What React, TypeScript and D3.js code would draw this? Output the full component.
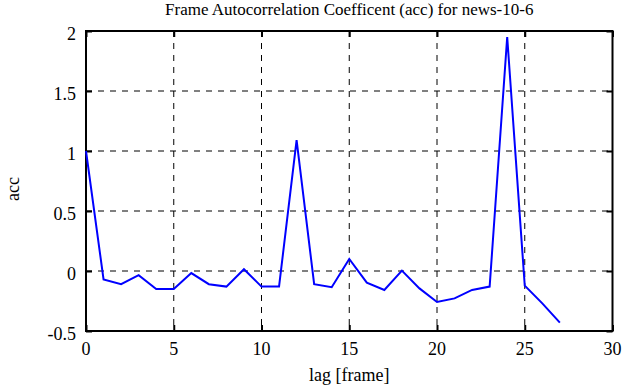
import { useRef, useEffect } from 'react';
import * as d3 from 'd3';

// lag (frames) and the autocorrelation coefficient
const lags = [0, 1, 2, 3, 4, 5, 6, 7, 8, 9, 10, 11, 12, 13, 14, 15, 16, 17, 18, 19, 20, 21, 22, 23, 24, 25, 26, 27];
const acc = [
  1.0, -0.07, -0.11, -0.035, -0.15, -0.15, -0.017, -0.11, -0.13, 0.015,
  -0.13, -0.13, 1.09, -0.11, -0.135, 0.1, -0.097, -0.158, 0.003, -0.145,
  -0.258, -0.228, -0.158, -0.13, 1.95, -0.122, -0.27, -0.43,
];
const xTicks = [0, 5, 10, 15, 20, 25, 30];
const yTicks = [-0.5, 0, 0.5, 1, 1.5, 2];

const title = 'Frame Autocorrelation Coefficent (acc) for news-10-6';
const xLabel = 'lag [frame]';
const yLabel = 'acc';

export default function App() {
  const svgRef = useRef<SVGSVGElement | null>(null);
  const width = 624;
  const height = 387;
  const margin = { top: 31, right: 11.5, bottom: 56, left: 86 };
  const innerW = width - margin.left - margin.right;
  const innerH = height - margin.top - margin.bottom;

  useEffect(() => {
    if (!svgRef.current) return;
    const font = 'Liberation Serif';

    const x = d3.scaleLinear().domain([0, 30]).range([0, innerW]);
    const y = d3.scaleLinear().domain([-0.5, 2]).range([innerH, 0]);

    const svg = d3.select(svgRef.current);
    svg.selectAll('*').remove();
    svg.attr('width', width).attr('height', height).attr('font-family', font);

    const g = svg.append('g').attr('transform', `translate(${margin.left},${margin.top})`);

    // dashed grid
    g.append('g')
      .selectAll('line')
      .data(xTicks.slice(1, -1))
      .join('line')
      .attr('x1', (d) => x(d)).attr('x2', (d) => x(d))
      .attr('y1', 0).attr('y2', innerH)
      .attr('stroke', '#000').attr('stroke-width', 1).attr('stroke-dasharray', '6,6');
    g.append('g')
      .selectAll('line')
      .data(yTicks.slice(1, -1))
      .join('line')
      .attr('x1', 0).attr('x2', innerW)
      .attr('y1', (d) => y(d)).attr('y2', (d) => y(d))
      .attr('stroke', '#000').attr('stroke-width', 1).attr('stroke-dasharray', '6,6');

    // inward ticks on all four sides (labels drawn separately)
    const styleAxis = (sel: any) => {
      sel.selectAll('.domain').remove();
      sel.selectAll('text').remove();
      sel.selectAll('line').attr('stroke', '#000').attr('stroke-width', 2);
    };
    g.append('g')
      .attr('transform', `translate(0,${innerH})`)
      .call(d3.axisBottom(x).tickValues(xTicks).tickSize(-6))
      .call(styleAxis);
    g.append('g')
      .call(d3.axisTop(x).tickValues(xTicks).tickSize(-6))
      .call(styleAxis);
    g.append('g')
      .call(d3.axisLeft(y).tickValues(yTicks).tickSize(-6))
      .call(styleAxis);
    g.append('g')
      .attr('transform', `translate(${innerW},0)`)
      .call(d3.axisRight(y).tickValues(yTicks).tickSize(-6))
      .call(styleAxis);

    // tick labels
    g.append('g')
      .selectAll('text')
      .data(xTicks)
      .join('text')
      .attr('x', (d) => x(d))
      .attr('y', innerH + 24)
      .attr('text-anchor', 'middle')
      .attr('font-family', font).attr('font-size', 18).attr('fill', '#000')
      .text((d) => String(d));
    g.append('g')
      .selectAll('text')
      .data(yTicks)
      .join('text')
      .attr('x', -10)
      .attr('y', (d) => y(d) + 9)
      .attr('text-anchor', 'end')
      .attr('font-family', font).attr('font-size', 18).attr('fill', '#000')
      .text((d) => String(d));

    // frame
    g.append('rect')
      .attr('width', innerW).attr('height', innerH)
      .attr('fill', 'none').attr('stroke', '#000').attr('stroke-width', 2);

    const line = d3.line<number>()
      .x((_, i) => x(lags[i]))
      .y((d) => y(d));

    g.append('path')
      .datum(acc)
      .attr('fill', 'none')
      .attr('stroke', '#0000ff')
      .attr('stroke-width', 2)
      .attr('d', line);

    svg.append('text')
      .attr('x', margin.left + innerW / 2).attr('y', 15)
      .attr('text-anchor', 'middle')
      .attr('font-family', font).attr('font-size', 17)
      .text(title);
    svg.append('text')
      .attr('x', margin.left + innerW / 2).attr('y', 381)
      .attr('text-anchor', 'middle')
      .attr('font-family', font).attr('font-size', 18)
      .text(xLabel);
    svg.append('text')
      .attr('transform', `translate(19,189) rotate(-90)`)
      .attr('text-anchor', 'middle')
      .attr('font-family', font).attr('font-size', 18)
      .text(yLabel);
  }, []);

  return (
    <svg ref={svgRef} style={{ position: 'absolute', left: 0, top: 0, display: 'block', background: '#fff' }} />
  );
}
